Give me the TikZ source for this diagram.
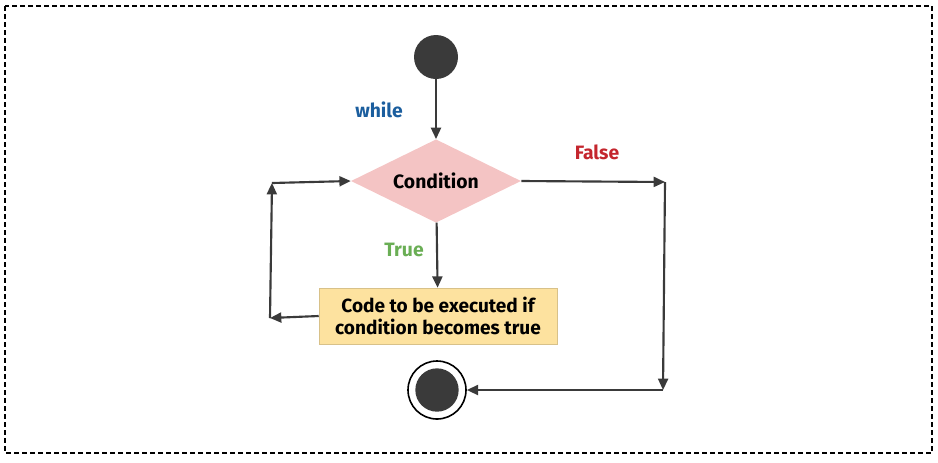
\documentclass[tikz,border=0pt]{standalone}
\usepackage{fontspec}
\setmainfont{Fira Sans}
\usetikzlibrary{shapes.geometric,arrows.meta}

\definecolor{linegray}{HTML}{3A3A3A}
\definecolor{condpink}{HTML}{F4C4C4}
\definecolor{codeyellow}{HTML}{FDE29F}
\definecolor{codeborder}{HTML}{D8C189}
\definecolor{whileblue}{HTML}{1B5E9E}
\definecolor{falsered}{HTML}{C4262E}
\definecolor{truegreen}{HTML}{6AAE55}

\begin{document}
\begin{tikzpicture}[
            x=0.75pt,
            y=-0.75pt,
            startdot/.style={
                circle,
                minimum size=33pt,
                inner sep=0pt,
                fill=linegray
            },
            decision/.style={
                diamond,
                aspect=2.05,
                minimum width=127.5pt,
                minimum height=62.5pt,
                inner sep=0pt,
                text centered,
                fill=condpink,
                font=\bfseries\fontsize{14.5}{17}\selectfont
            },
            process/.style={
                rectangle,
                minimum width=178.5pt,
                minimum height=42pt,
                align=center,
                draw=codeborder,
                fill=codeyellow,
                font=\bfseries\fontsize{14.3}{17}\selectfont
            },
            label/.style={
                font=\bfseries\fontsize{14.5}{17}\selectfont
            },
            arrow/.style={
                draw=linegray,
                line width=1.6pt,
                -{Triangle[length=8.5pt,width=7.5pt]}
            }
        ]
            % Frame
            \useasboundingbox (0,0) rectangle (938,462);
            \draw[line width=1.5pt, dash pattern=on 3.5pt off 2.5pt] (5,6) rectangle (932,453);

            % Define nodes
            \node[startdot] (start) at (436,57) {};
            \node[decision] (condition) at (436,181) {Condition};
            \node[process] (code) at (438,316) {Code to be executed if\\condition becomes true};
            \node[circle, minimum size=43.5pt, inner sep=0pt, draw=black, line width=1.2pt] (stop) at (437,390) {};
            \node[startdot, minimum size=32.5pt] (stopdot) at (437,390) {};
            \coordinate (backdown) at (270,318);
            \coordinate (backup) at (272,183);
            \coordinate (falseright) at (665,182);
            \coordinate (falsedown) at (663,390);

            % Labels
            \node[label, text=whileblue] (while) at (379,110) {while};
            \node[label, text=falsered] (false) at (597,152) {False};
            \node[label, text=truegreen] (true) at (404,250) {True};

            % Draw edges
            \draw[arrow] (start) -- (condition);
            \draw[arrow] (condition) -- (code);
            \draw[arrow] (code.west) -- (backdown);
            \draw[arrow] (backdown) -- (backup);
            \draw[arrow] (backup) -- (condition.west);
            \draw[arrow] (condition.east) -- (falseright);
            \draw[arrow] (falseright) -- (falsedown);
            \draw[arrow] (falsedown) -- (stop);
        \end{tikzpicture}
\end{document}
